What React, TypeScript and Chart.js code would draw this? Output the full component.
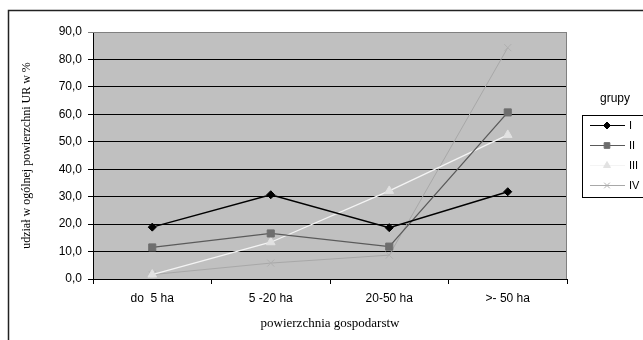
import React, { useEffect, useRef } from "react";
import { Chart, registerables } from "chart.js";
import { drawPoint } from "chart.js/helpers";

Chart.register(...registerables);

const categories = ["do  5 ha", "5 -20 ha", "20-50 ha", ">- 50 ha"];
const seriesNames = ["I", "II", "III", "IV"];
const seriesI = [18.9, 30.7, 18.7, 31.8];
const seriesII = [11.5, 16.6, 11.8, 60.7];
const seriesIII = [1.6, 13.4, 32.1, 52.5];
const seriesIV = [1.6, 5.8, 8.7, 84.3];
const yMin = 0;
const yMax = 90;
const yStep = 10;
const yTitle = "udział w ogólnej powierzchni UR w %";
const xTitle = "powierzchnia gospodarstw";
const legendTitle = "grupy";

const sans = "'Liberation Sans', Arial, sans-serif";
const serif = "'Liberation Serif', 'Times New Roman', serif";

const decorPlugin = {
  id: "decor",
  beforeDraw(chart: any) {
    const { ctx, chartArea } = chart;
    ctx.save();
    ctx.fillStyle = "#c0c0c0";
    ctx.fillRect(chartArea.left, chartArea.top, chartArea.right - chartArea.left, chartArea.bottom - chartArea.top);
    ctx.restore();
  },
  afterDraw(chart: any) {
    const { ctx, chartArea } = chart;
    ctx.save();
    // outer frame
    ctx.strokeStyle = "#222";
    ctx.lineWidth = 1.5;
    ctx.beginPath();
    ctx.moveTo(8.5, 345);
    ctx.lineTo(8.5, 10.5);
    ctx.lineTo(650, 10.5);
    ctx.stroke();
    // plot border top / right
    ctx.strokeStyle = "#808080";
    ctx.lineWidth = 1;
    ctx.beginPath();
    ctx.moveTo(chartArea.left, chartArea.top + 0.5);
    ctx.lineTo(chartArea.right - 0.5, chartArea.top + 0.5);
    ctx.lineTo(chartArea.right - 0.5, chartArea.bottom);
    ctx.stroke();

    // legend
    ctx.fillStyle = "#000";
    ctx.font = `12px ${sans}`;
    ctx.textAlign = "center";
    ctx.textBaseline = "middle";
    ctx.fillText(legendTitle, 615, 99);
    ctx.strokeStyle = "#000";
    ctx.lineWidth = 1;
    ctx.strokeRect(582.5, 115.5, 70, 82);
    const ys = [125.5, 145.5, 165.5, 185.5];
    chart.data.datasets.forEach((ds: any, i: number) => {
      const y = ys[i];
      ctx.strokeStyle = ds.borderColor;
      ctx.lineWidth = 1;
      ctx.beginPath();
      ctx.moveTo(590, y);
      ctx.lineTo(625, y);
      ctx.stroke();
      ctx.fillStyle = ds.pointBackgroundColor;
      ctx.strokeStyle = ds.pointBorderColor;
      ctx.lineWidth = 1;
      drawPoint(ctx, {
        pointStyle: ds.pointStyle,
        radius: ds.pointStyle === "rectRot" ? 3.5 : 4,
        borderWidth: 1,
        rotation: 0,
      } as any, 607, y);
      ctx.fillStyle = "#000";
      ctx.font = `11px ${sans}`;
      ctx.textAlign = "left";
      ctx.fillText(ds.label, 629, y);
    });
    ctx.restore();
  },
};

export default function App() {
  const ref = useRef<HTMLCanvasElement>(null);
  useEffect(() => {
    if (!ref.current) return;
    const mk = (label: string, data: number[], line: string, fill: string, style: string, r: number, w: number) => ({
      label,
      data,
      borderColor: line,
      backgroundColor: fill,
      borderWidth: w,
      pointStyle: style,
      pointRadius: r,
      pointBackgroundColor: fill,
      pointBorderColor: fill,
      pointBorderWidth: 1,
      tension: 0,
    });
    const datasets = [
      mk(seriesNames[0], seriesI, "#000000", "#000000", "rectRot", 4, 1.5),
      mk(seriesNames[1], seriesII, "#5a5a5a", "#6e6e6e", "rect", 5, 1.3),
      mk(seriesNames[2], seriesIII, "#f4f4f4", "#e2e2e2", "triangle", 5, 1.3),
      mk(seriesNames[3], seriesIV, "#a8a8a8", "#b0b0b0", "crossRot", 5, 1),
    ];
    const chart = new Chart(ref.current, {
      type: "line",
      data: { labels: categories, datasets: datasets as any },
      options: {
        animation: false,
        responsive: false,
        devicePixelRatio: 1,
        layout: { padding: { left: 20, top: 32, right: 76, bottom: 0 } },
        plugins: { legend: { display: false }, tooltip: { enabled: false } },
        scales: {
          x: {
            type: "category",
            offset: true,
            grid: { offset: true, drawOnChartArea: false, drawTicks: true, tickLength: 5, color: "#000" },
            border: { display: true, color: "#000", width: 1 },
            ticks: { color: "#000", font: { family: sans, size: 12 }, padding: 7, maxRotation: 0 },
            title: { display: true, text: xTitle, color: "#000", font: { family: serif, size: 13 }, padding: { top: 0, bottom: 9 } },
            afterFit: (s: any) => { s.height = 61; },
          },
          y: {
            min: yMin,
            max: yMax,
            ticks: {
              stepSize: yStep,
              color: "#000",
              font: { family: sans, size: 12 },
              padding: 6,
              callback: (v: any) => Number(v).toFixed(1).replace(".", ","),
            },
            grid: {
              color: (c: any) => (c.tick && c.tick.value === yMax ? "#808080" : "#000"),
              lineWidth: 1,
              tickLength: 5,
              drawTicks: true,
            },
            border: { display: true, color: "#000", width: 1 },
            title: { display: true, text: yTitle, color: "#000", font: { family: serif, size: 12 }, padding: { top: 0, bottom: 0 } },
            afterFit: (s: any) => { s.width = 73; },
          },
        },
      },
      plugins: [decorPlugin],
    });
    return () => chart.destroy();
  }, []);
  return (
    <div style={{ position: "fixed", left: 0, top: 0, width: 643, height: 340, background: "#fff" }}>
      <canvas ref={ref} width={643} height={340} style={{ display: "block", width: 643, height: 340 }} />
    </div>
  );
}
